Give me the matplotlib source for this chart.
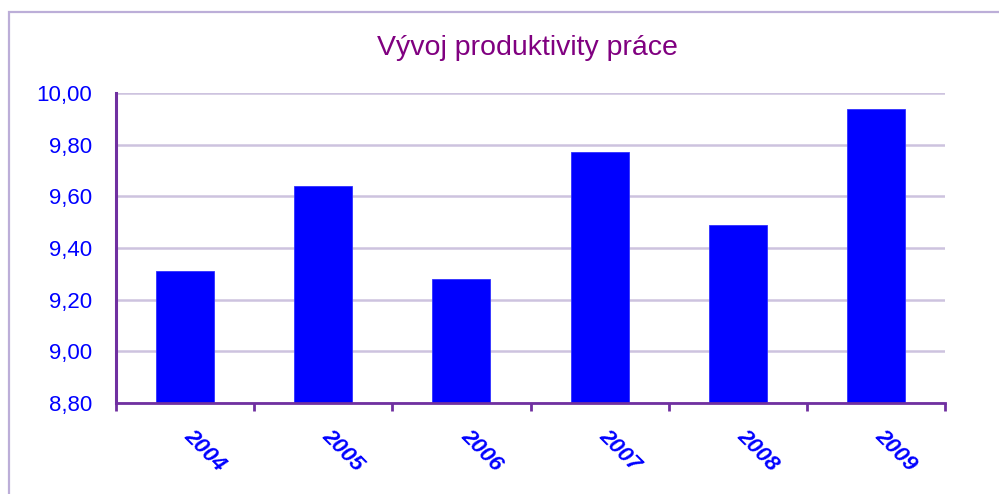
import matplotlib
matplotlib.use("Agg")
import matplotlib.pyplot as plt
import matplotlib.transforms as mtransforms
from matplotlib.patches import Rectangle

years = ["2004", "2005", "2006", "2007", "2008", "2009"]
values = [9.31, 9.64, 9.28, 9.77, 9.49, 9.94]
yticks = [8.80, 9.00, 9.20, 9.40, 9.60, 9.80, 10.00]
title = "Vývoj produktivity práce"

plt.rcParams['font.family'] = ['Liberation Sans', 'DejaVu Sans']

W, H = 999, 494
fig = plt.figure(figsize=(W / 100, H / 100), dpi=100)
fig.patch.set_facecolor("white")

# outer chart border
fig.add_artist(Rectangle((9 / W, -0.05), 1.2, 1 - 12 / H + 0.05, transform=fig.transFigure,
                         fill=False, edgecolor="#BCAED8", linewidth=1.6))

ax = fig.add_axes([116 / W, 1 - 403 / H, (945 - 116) / W, (403 - 93) / H])
x = list(range(len(years)))
ax.bar(x, values, width=0.42, color="#0000FF", edgecolor="#3030FF", linewidth=0.6,
       bottom=0, zorder=3)
ax.set_xlim(-0.5, len(years) - 0.5)
ax.set_ylim(8.80, 10.00)

ax.set_yticks(yticks)
ax.set_yticklabels([f"{v:.2f}".replace(".", ",") for v in yticks], color="#0000FF", fontsize=16)
ax.tick_params(axis="y", length=0, pad=17)
ax.yaxis.grid(True, color="#CDC3DF", linewidth=1.8, zorder=0)
ax.set_axisbelow(True)

ax.set_xticks([i - 0.5 for i in range(len(years) + 1)])
ax.set_xticklabels([])
ax.tick_params(axis="x", which="major", length=6, width=2, color="#7030A0", direction="out")
ax.set_xticks(x, minor=True)
ax.set_xticklabels(years, minor=True, rotation=-45, ha="left", va="top",
                   color="#0000FF", fontsize=16, fontweight="bold", fontstyle="italic")
ax.tick_params(axis="x", which="minor", length=0, pad=16)
offset = mtransforms.ScaledTranslation(-5 / 100, 0, fig.dpi_scale_trans)
for lbl in ax.xaxis.get_minorticklabels():
    lbl.set_transform(lbl.get_transform() + offset)

for side in ["top", "right"]:
    ax.spines[side].set_visible(False)
ax.spines["left"].set_color("#7030A0")
ax.spines["left"].set_linewidth(2.2)
ax.spines["bottom"].set_color("#7030A0")
ax.spines["bottom"].set_linewidth(2.0)
ax.spines["bottom"].set_zorder(4)

fig.text(527 / W, 1 - 48 / H, title, ha="center", va="center", color="#800080", fontsize=20.5)

fig.savefig("out.png", dpi=100, facecolor="white")
